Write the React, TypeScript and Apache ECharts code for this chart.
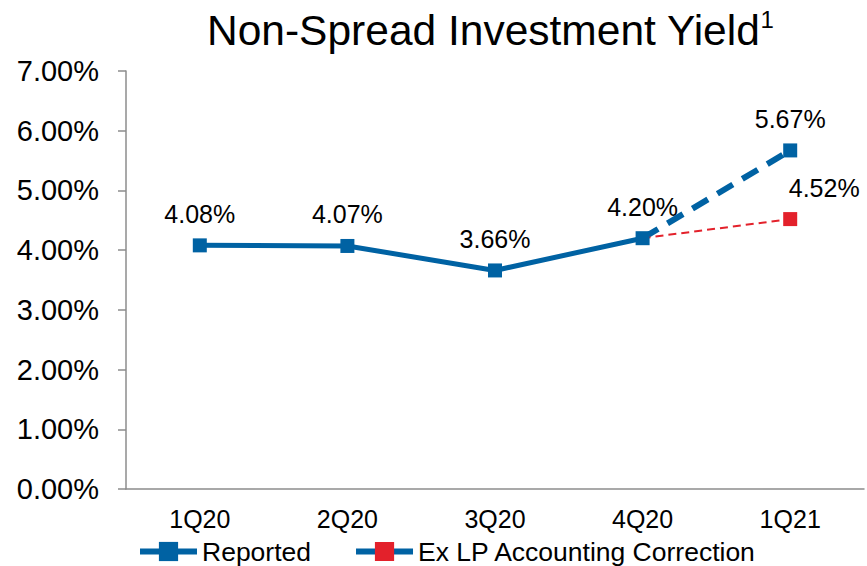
import React, { useEffect, useRef } from "react";
import * as echarts from "echarts";

const categories = ["1Q20", "2Q20", "3Q20", "4Q20", "1Q21"];
const reportedSolid = [4.08, 4.07, 3.66, 4.2, null];
const reportedDashed = [null, null, null, 4.2, 5.67];
const exLP = [null, null, null, 4.2, 4.52];
const yTicks = { min: 0, max: 7, interval: 1 };

const BLUE = "#0062A3";
const RED = "#E3212B";
const FONT = "'Liberation Sans', Arial, sans-serif";

export default function App() {
  const ref = useRef<HTMLDivElement>(null);
  useEffect(() => {
    if (!ref.current) return;
    const chart = echarts.init(ref.current, null, { renderer: "svg" });
    const fmt = (p: any) => {
      const v = Array.isArray(p.value) ? p.value[1] : p.value;
      return Number(v).toFixed(2) + "%";
    };
    const label = {
      show: true,
      position: "top",
      distance: 12,
      fontSize: 25,
      color: "#000",
      fontFamily: FONT,
      formatter: fmt,
    };
    chart.setOption({
      animation: false,
      textStyle: { fontFamily: FONT },
      title: {
        text: "{a|Non-Spread Investment Yield}{b|1}",
        left: 202,
        top: 2,
        textStyle: {
          fontWeight: "normal",
          rich: {
            a: { fontSize: 42.5, color: "#000", fontFamily: FONT, fontWeight: "normal", lineHeight: 46 },
            b: { fontSize: 24, color: "#000", fontFamily: FONT, fontWeight: "normal", verticalAlign: "top", lineHeight: 46, padding: [0, 0, 14, 0] },
          },
        },
      },
      grid: { left: 126, right: 3, top: 71, bottom: 77, containLabel: false },
      legend: {
        left: 132,
        top: 533,
        itemWidth: 57,
        itemHeight: 24,
        itemGap: 42,
        textStyle: { fontSize: 26.5, color: "#000", fontFamily: FONT },
        data: [
          { name: "Reported", itemStyle: { color: BLUE }, lineStyle: { color: BLUE, width: 6, type: "solid" } },
          { name: "Ex LP Accounting Correction", itemStyle: { color: RED }, lineStyle: { color: BLUE, width: 6, type: "solid" } },
        ],
      },
      xAxis: {
        type: "category",
        data: categories,
        boundaryGap: true,
        axisLine: { lineStyle: { color: "#8C8C8C", width: 1.5 } },
        axisTick: { show: false },
        axisLabel: { fontSize: 25, color: "#000", margin: 17, fontFamily: FONT },
      },
      yAxis: {
        type: "value",
        min: yTicks.min,
        max: yTicks.max,
        interval: yTicks.interval,
        axisLine: { show: true, lineStyle: { color: "#8C8C8C", width: 1.5 } },
        axisTick: { show: true, length: 8, lineStyle: { color: "#8C8C8C", width: 1.5 } },
        splitLine: { show: false },
        axisLabel: {
          fontSize: 29,
          color: "#000",
          margin: 27,
          fontFamily: FONT,
          formatter: (v: number) => v.toFixed(2) + "%",
        },
      },
      series: [
        {
          name: "Ex LP Accounting Correction",
          type: "line",
          z: 3,
          data: exLP.map((v, i) => (i === 3 ? { value: v, symbol: "none", label: { show: false } } : v)),
          symbol: "rect",
          symbolSize: 14,
          itemStyle: { color: RED },
          lineStyle: { color: RED, width: 2, type: [8, 5] },
          label: { ...label, offset: [34, 0] },
          connectNulls: false,
        },
        {
          name: "Reported",
          type: "line",
          z: 2,
          data: reportedDashed.map((v, i) => (i === 3 ? { value: v, symbol: "none", label: { show: false } } : v)),
          symbol: "rect",
          symbolSize: 14,
          itemStyle: { color: BLUE },
          lineStyle: { color: BLUE, width: 6, type: [18, 11] },
          label,
        },
        {
          name: "Reported",
          type: "line",
          z: 4,
          data: reportedSolid,
          symbol: "rect",
          symbolSize: 14,
          itemStyle: { color: BLUE },
          lineStyle: { color: BLUE, width: 5 },
          label,
        },
      ],
    });
    return () => chart.dispose();
  }, []);
  return (
    <div
      ref={ref}
      style={{ position: "fixed", left: 0, top: 0, width: 867, height: 566, background: "#fff" }}
    />
  );
}
